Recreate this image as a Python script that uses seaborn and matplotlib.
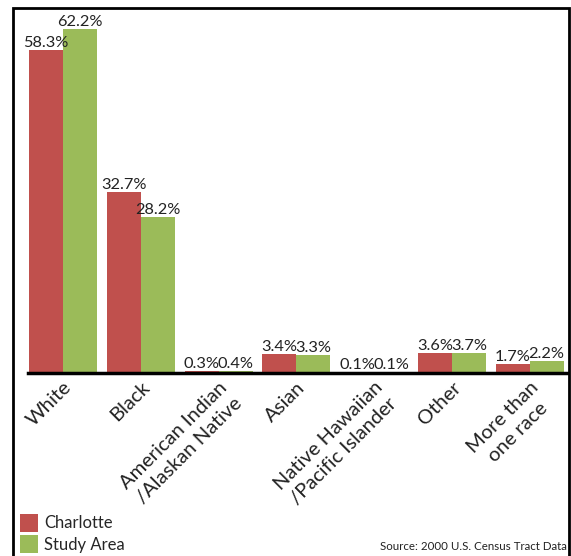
import pandas as pd
import seaborn as sns
import matplotlib.pyplot as plt
from matplotlib.patches import Patch, Rectangle

races = ['White', 'Black', 'American Indian\n/Alaskan Native', 'Asian',
         'Native Hawaiian\n/Pacific Islander', 'Other', 'More than\none race']
charlotte = [58.3, 32.7, 0.3, 3.4, 0.1, 3.6, 1.7]
study_area = [62.2, 28.2, 0.4, 3.3, 0.1, 3.7, 2.2]
series = ['Charlotte', 'Study Area']
colors = ['#C0504D', '#9BBB59']

df = pd.DataFrame({
    'Race': races * 2,
    'Pct': charlotte + study_area,
    'Area': [series[0]] * len(races) + [series[1]] * len(races),
})

sns.set_style('white')
plt.rcParams['font.family'] = ['Lato', 'DejaVu Sans']

fig = plt.figure(figsize=(5.71, 5.56), dpi=100)
ax = fig.add_axes([28 / 571, 1 - 373 / 556, 539 / 571, 363 / 556])
sns.barplot(data=df, x='Race', y='Pct', hue='Area', palette=colors,
            width=0.875, gap=0, saturation=1, linewidth=0, ax=ax,
            legend=False)

# value labels ----------------------------------------------------------------
for cont in ax.containers:
    ax.bar_label(cont, labels=[f'{v:.1f}%' for v in cont.datavalues],
                 padding=0, fontsize=11.8, color='#222222', clip_on=False)

ax.set_xlim(-0.45, 6.48)
ax.set_ylim(0, 65.6)
ax.set_xlabel('')
ax.set_ylabel('')
ax.set_yticks([])
ax.tick_params(axis='x', length=0, pad=4)
ax.set_xticks(range(len(races)))
ax.set_xticklabels(races, rotation=45, ha='right', rotation_mode='anchor',
                   fontsize=14.5, color='#222222', multialignment='center',
                   linespacing=1.3)
for s in ['left', 'right', 'top']:
    ax.spines[s].set_visible(False)
ax.spines['bottom'].set_color('black')
ax.spines['bottom'].set_linewidth(2.5)

# legend ----------------------------------------------------------------------
handles = [Patch(facecolor=c, edgecolor='none') for c in colors]
fig.legend(handles, series, loc='lower left', bbox_to_anchor=(0.02, -0.01),
           frameon=False, fontsize=12, handlelength=1.1, handleheight=1.3,
           handletextpad=0.35, labelspacing=0.2, borderpad=0)

fig.text(0.993, 0.008, 'Source: 2000 U.S. Census Tract Data', ha='right',
         va='bottom', fontsize=8.3, color='#222222')

# frame round the figure ------------------------------------------------------
fig.patches.append(Rectangle((13 / 571, -0.01), 556 / 571, 1 - 8 / 556 + 0.01,
                             transform=fig.transFigure, fill=False,
                             edgecolor='black', linewidth=2))

fig.savefig('out.png', dpi=100)
